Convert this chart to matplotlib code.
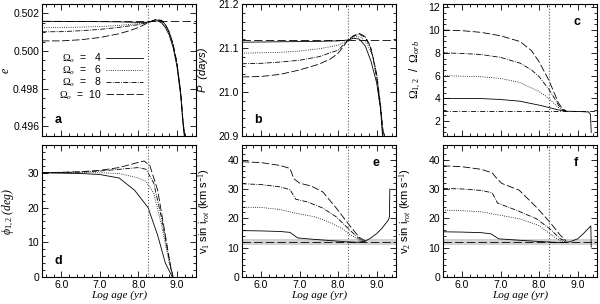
import matplotlib
matplotlib.use('Agg')
import matplotlib.pyplot as plt
from matplotlib.ticker import MultipleLocator

plt.rcParams['font.family'] = 'Liberation Sans'
plt.rcParams['font.size'] = 7.5
plt.rcParams['mathtext.fontset'] = 'custom'
plt.rcParams['mathtext.it'] = 'Liberation Serif:italic'
plt.rcParams['mathtext.rm'] = 'Liberation Serif'

# age of the system (log yr) and observed reference values
age_obs = 8.25
e_obs = 0.50161
p_obs = 21.118
spin_eq = 2.85
vsini_obs = 12.0
vsini_err = 1.0

omega0 = [4, 6, 8, 10]
styles = ['-', ':', (0, (6, 1.5, 1, 1.5)), (0, (9, 3))]

# panel a: eccentricity
ecc_x = [
    [5.5, 6.5, 7.5, 8.0, 8.25, 8.4, 8.5, 8.6, 8.7, 8.8, 8.9, 9.0, 9.1, 9.15, 9.19],
    [5.5, 6.0, 6.5, 7.0, 7.5, 7.8, 8.0, 8.25, 8.4, 8.5, 8.6, 8.7, 8.8, 8.9, 9.0, 9.1, 9.15, 9.2],
    [5.5, 6.0, 6.5, 7.0, 7.5, 8.0, 8.25, 8.45, 8.6, 8.7, 8.8, 8.9, 9.0, 9.1, 9.15, 9.2],
    [5.5, 6.0, 6.5, 7.0, 7.5, 7.8, 8.0, 8.25, 8.45, 8.6, 8.7, 8.8, 8.9, 9.0, 9.1, 9.15, 9.2],
]
ecc_y = [
    [0.50158, 0.50157, 0.50155, 0.50152, 0.50153, 0.50160, 0.50160, 0.50150, 0.50125, 0.50085, 0.50020, 0.49920, 0.49760, 0.49630, 0.49550],
    [0.50124, 0.50125, 0.50127, 0.50130, 0.50136, 0.50142, 0.50146, 0.50152, 0.50163, 0.50165, 0.50158, 0.50135, 0.50095, 0.50030, 0.49930, 0.49770, 0.49640, 0.49550],
    [0.50102, 0.50103, 0.50108, 0.50115, 0.50126, 0.50140, 0.50152, 0.50166, 0.50162, 0.50140, 0.50100, 0.50035, 0.49935, 0.49775, 0.49645, 0.49550],
    [0.50054, 0.50054, 0.50060, 0.50072, 0.50092, 0.50110, 0.50125, 0.50150, 0.50168, 0.50163, 0.50142, 0.50102, 0.50038, 0.49940, 0.49780, 0.49650, 0.49550],
]

# panel b: orbital period (days)
per_x = [
    [5.5, 6.5, 7.5, 8.0, 8.25, 8.4, 8.55, 8.7, 8.85, 9.0, 9.1, 9.15],
    [5.5, 6.5, 7.0, 7.5, 8.0, 8.25, 8.45, 8.6, 8.75, 8.9, 9.0, 9.1, 9.16],
    [5.5, 6.0, 6.5, 7.0, 7.5, 8.0, 8.25, 8.4, 8.55, 8.7, 8.85, 9.0, 9.1, 9.17],
    [5.5, 6.0, 6.5, 7.0, 7.5, 7.8, 8.0, 8.15, 8.25, 8.4, 8.55, 8.7, 8.8, 8.9, 9.0, 9.1, 9.18],
]
per_y = [
    [21.113, 21.114, 21.115, 21.116, 21.118, 21.122, 21.120, 21.105, 21.070, 21.020, 20.960, 20.900],
    [21.088, 21.090, 21.093, 21.098, 21.106, 21.117, 21.126, 21.124, 21.110, 21.080, 21.040, 20.970, 20.900],
    [21.064, 21.065, 21.068, 21.072, 21.080, 21.095, 21.117, 21.127, 21.131, 21.124, 21.100, 21.040, 20.970, 20.900],
    [21.034, 21.035, 21.040, 21.050, 21.063, 21.075, 21.088, 21.105, 21.118, 21.128, 21.133, 21.126, 21.110, 21.080, 21.030, 20.960, 20.900],
]

# panel c: spin / orbital angular velocity
spin_x = [
    [5.5, 6.5, 7.0, 7.5, 8.0, 8.25, 8.5, 8.7, 9.0, 9.28, 9.33, 9.35],
    [5.5, 6.5, 7.0, 7.5, 8.0, 8.25, 8.4, 8.55, 8.7],
    [5.5, 6.0, 6.5, 7.0, 7.5, 7.8, 8.0, 8.25, 8.4, 8.5, 8.6, 8.7],
    [5.5, 6.0, 6.5, 7.0, 7.5, 7.8, 8.0, 8.25, 8.4, 8.5, 8.6, 8.7],
]
spin_y = [
    [4.0, 3.98, 3.9, 3.75, 3.4, 3.2, 2.98, 2.87, 2.85, 2.8, 2.6, 1.0],
    [6.0, 5.9, 5.75, 5.4, 4.6, 4.0, 3.5, 3.05, 2.87],
    [8.0, 7.95, 7.85, 7.6, 7.1, 6.5, 5.9, 4.8, 4.0, 3.4, 3.0, 2.87],
    [10.0, 9.95, 9.8, 9.5, 9.0, 8.2, 7.2, 5.6, 4.4, 3.6, 3.1, 2.9],
]

# panel d: misalignment angle (deg)
phi_x = [
    [5.5, 6.5, 7.0, 7.5, 7.9, 8.25, 8.5, 8.7, 8.88],
    [5.5, 6.5, 7.0, 7.5, 8.0, 8.2, 8.4, 8.6, 8.8, 8.9],
    [5.5, 6.5, 7.0, 7.5, 8.0, 8.2, 8.4, 8.6, 8.8, 8.9],
    [5.5, 6.5, 7.0, 7.5, 8.0, 8.15, 8.3, 8.5, 8.7, 8.85, 8.9],
]
phi_y = [
    [30.0, 29.8, 29.5, 28.5, 25.0, 20.0, 12.0, 4.0, 0.0],
    [30.0, 30.0, 30.0, 29.8, 28.5, 27.5, 24.0, 15.0, 4.0, 0.0],
    [30.0, 30.2, 30.5, 31.0, 31.5, 31.0, 27.0, 17.0, 5.0, 0.0],
    [30.0, 30.3, 30.7, 31.5, 33.0, 33.4, 32.0, 25.0, 12.0, 2.0, 0.0],
]

# panel e: v1 sin i (km/s)
v1_x = [
    [5.5, 6.0, 6.5, 6.75, 6.95, 7.3, 7.8, 8.2, 8.5, 8.7, 8.85, 9.0, 9.13, 9.3, 9.33, 9.34],
    [5.5, 6.0, 6.5, 6.8, 7.0, 7.4, 7.8, 8.1, 8.3, 8.55, 8.7],
    [5.5, 6.0, 6.5, 6.75, 6.9, 7.2, 7.6, 7.95, 8.3, 8.55, 8.7],
    [5.5, 6.0, 6.5, 6.75, 6.85, 7.0, 7.3, 7.6, 7.95, 8.3, 8.55, 8.7],
]
v1_y = [
    [15.8, 15.7, 15.5, 15.2, 13.3, 12.9, 12.4, 12.0, 11.8, 12.2, 13.3, 14.8, 16.5, 19.4, 20.5, 30.0],
    [23.8, 23.7, 23.0, 22.0, 21.5, 20.5, 18.5, 16.5, 14.5, 12.5, 12.1],
    [31.8, 31.5, 30.7, 29.8, 26.5, 25.6, 23.5, 20.5, 16.0, 13.0, 12.2],
    [39.3, 39.0, 38.0, 37.0, 33.5, 32.0, 31.0, 29.0, 23.5, 17.5, 13.5, 12.3],
]

# panel f: v2 sin i (km/s)
v2_x = [
    [5.5, 6.0, 6.5, 6.75, 6.95, 7.5, 8.0, 8.4, 8.6, 8.8, 9.0, 9.15, 9.2, 9.34, 9.35],
    [5.5, 6.0, 6.5, 7.0, 7.5, 8.0, 8.3, 8.55, 8.7],
    [5.5, 6.0, 6.5, 6.78, 6.92, 7.4, 7.92, 8.27, 8.55, 8.7],
    [5.5, 6.0, 6.5, 6.78, 6.9, 7.03, 7.48, 7.92, 8.27, 8.55, 8.7],
]
v2_y = [
    [15.4, 15.3, 15.1, 14.7, 13.0, 12.5, 12.1, 11.8, 11.7, 12.0, 13.0, 14.8, 15.5, 17.4, 10.2],
    [22.8, 22.6, 22.2, 21.0, 19.8, 17.5, 14.5, 12.3, 12.0],
    [30.2, 30.0, 29.5, 28.7, 25.2, 22.8, 19.9, 16.5, 13.0, 12.2],
    [37.9, 37.6, 36.7, 35.5, 33.6, 31.9, 29.6, 23.9, 18.8, 14.2, 12.3],
]

fig = plt.figure(figsize=(6.0, 3.04), dpi=100)

lefts = [0.070, 0.403, 0.738]
width = 0.257
bottoms = [0.553, 0.089]
height = 0.434

axes = []
for r in range(2):
    for c in range(3):
        axes.append(fig.add_axes([lefts[c], bottoms[r], width, height]))

series = [(ecc_x, ecc_y), (per_x, per_y), (spin_x, spin_y),
          (phi_x, phi_y), (v1_x, v1_y), (v2_x, v2_y)]

for ax, (xs, ys) in zip(axes, series):
    for i in range(4):
        ax.plot(xs[i], ys[i], linestyle=styles[i], color='k', linewidth=0.6,
                label=r'$\Omega_o$  =  ' + f'{omega0[i]:>2d}')
    ax.axvline(age_obs, color='0.35', linestyle=':', linewidth=0.8)
    ax.set_xlim(5.5, 9.5)
    ax.xaxis.set_major_locator(MultipleLocator(1.0))
    ax.xaxis.set_minor_locator(MultipleLocator(0.2))
    ax.tick_params(which='both', direction='in', top=True, right=True, width=0.6, pad=2)
    ax.tick_params(which='major', length=4)
    ax.tick_params(which='minor', length=2)
    for s in ax.spines.values():
        s.set_linewidth(0.8)

# reference lines
axes[0].axhline(e_obs, color='k', linestyle=(0, (10, 4)), linewidth=0.6)
axes[1].axhline(p_obs, color='k', linestyle=(0, (10, 4)), linewidth=0.6)
axes[2].axhline(spin_eq, color='k', linestyle=(0, (6, 2, 1, 2)), linewidth=0.6)
for ax in axes[4:]:
    ax.axhspan(vsini_obs - vsini_err, vsini_obs + vsini_err, color='0.82', linewidth=0)
    ax.axhline(vsini_obs, color='k', linestyle=(0, (10, 4)), linewidth=0.6)

# limits and ticks
axes[0].set_ylim(0.4955, 0.5025)
axes[0].yaxis.set_major_locator(MultipleLocator(0.002))
axes[0].yaxis.set_minor_locator(MultipleLocator(0.0005))
axes[0].yaxis.set_major_formatter(plt.FormatStrFormatter('%.3f'))
axes[1].set_ylim(20.9, 21.2)
axes[1].yaxis.set_major_locator(MultipleLocator(0.1))
axes[1].yaxis.set_minor_locator(MultipleLocator(0.02))
axes[2].set_ylim(0.7, 12.3)
axes[2].yaxis.set_major_locator(MultipleLocator(2))
axes[2].yaxis.set_minor_locator(MultipleLocator(0.5))
axes[3].set_ylim(0, 38)
axes[3].yaxis.set_major_locator(MultipleLocator(10))
axes[3].yaxis.set_minor_locator(MultipleLocator(2))
for ax in axes[4:]:
    ax.set_ylim(0, 45)
    ax.yaxis.set_major_locator(MultipleLocator(10))
    ax.yaxis.set_minor_locator(MultipleLocator(2))

for ax in axes[:3]:
    ax.tick_params(labelbottom=False)
for ax in axes[3:]:
    ax.xaxis.set_major_formatter(plt.FormatStrFormatter('%.1f'))
    ax.set_xlabel('Log age (yr)', family='Liberation Serif', style='italic', fontsize=8)
    ax.xaxis.set_label_coords(0.5, -0.10)

# y labels
axes[0].set_ylabel('e', family='Liberation Serif', style='italic', fontsize=8.5)
axes[1].set_ylabel('P  (days)', style='italic', fontsize=8)
axes[2].set_ylabel(r'$\Omega_{1,2}$  /  $\Omega_{orb}$', fontsize=8.5)
axes[3].set_ylabel(r'$\phi_{1,2}$ (deg)', family='Liberation Serif', style='italic', fontsize=8.5)
axes[4].set_ylabel(r'v$_1$ sin i$_{rot}$ (km s$^{-1}$)', fontsize=8)
axes[5].set_ylabel(r'v$_2$ sin i$_{rot}$ (km s$^{-1}$)', fontsize=8)
label_x = [-0.20, -0.22, -0.13, -0.17, -0.19, -0.19]
for ax, lx in zip(axes, label_x):
    ax.yaxis.set_label_coords(lx, 0.5)

# panel letters
letter_pos = [(0.08, 0.12), (0.08, 0.12), (0.85, 0.86), (0.08, 0.12), (0.85, 0.86), (0.85, 0.86)]
for ax, lab, (lx, ly) in zip(axes, 'abcdef', letter_pos):
    ax.text(lx, ly, lab, transform=ax.transAxes, fontsize=9, fontweight='bold', va='center')

# legend
axes[0].legend(loc='center left', bbox_to_anchor=(0.05, 0.45), frameon=False,
               markerfirst=False, handlelength=3.6, handletextpad=0.4,
               labelspacing=-0.12, fontsize=7.5)

fig.savefig('out.png', dpi=100)
